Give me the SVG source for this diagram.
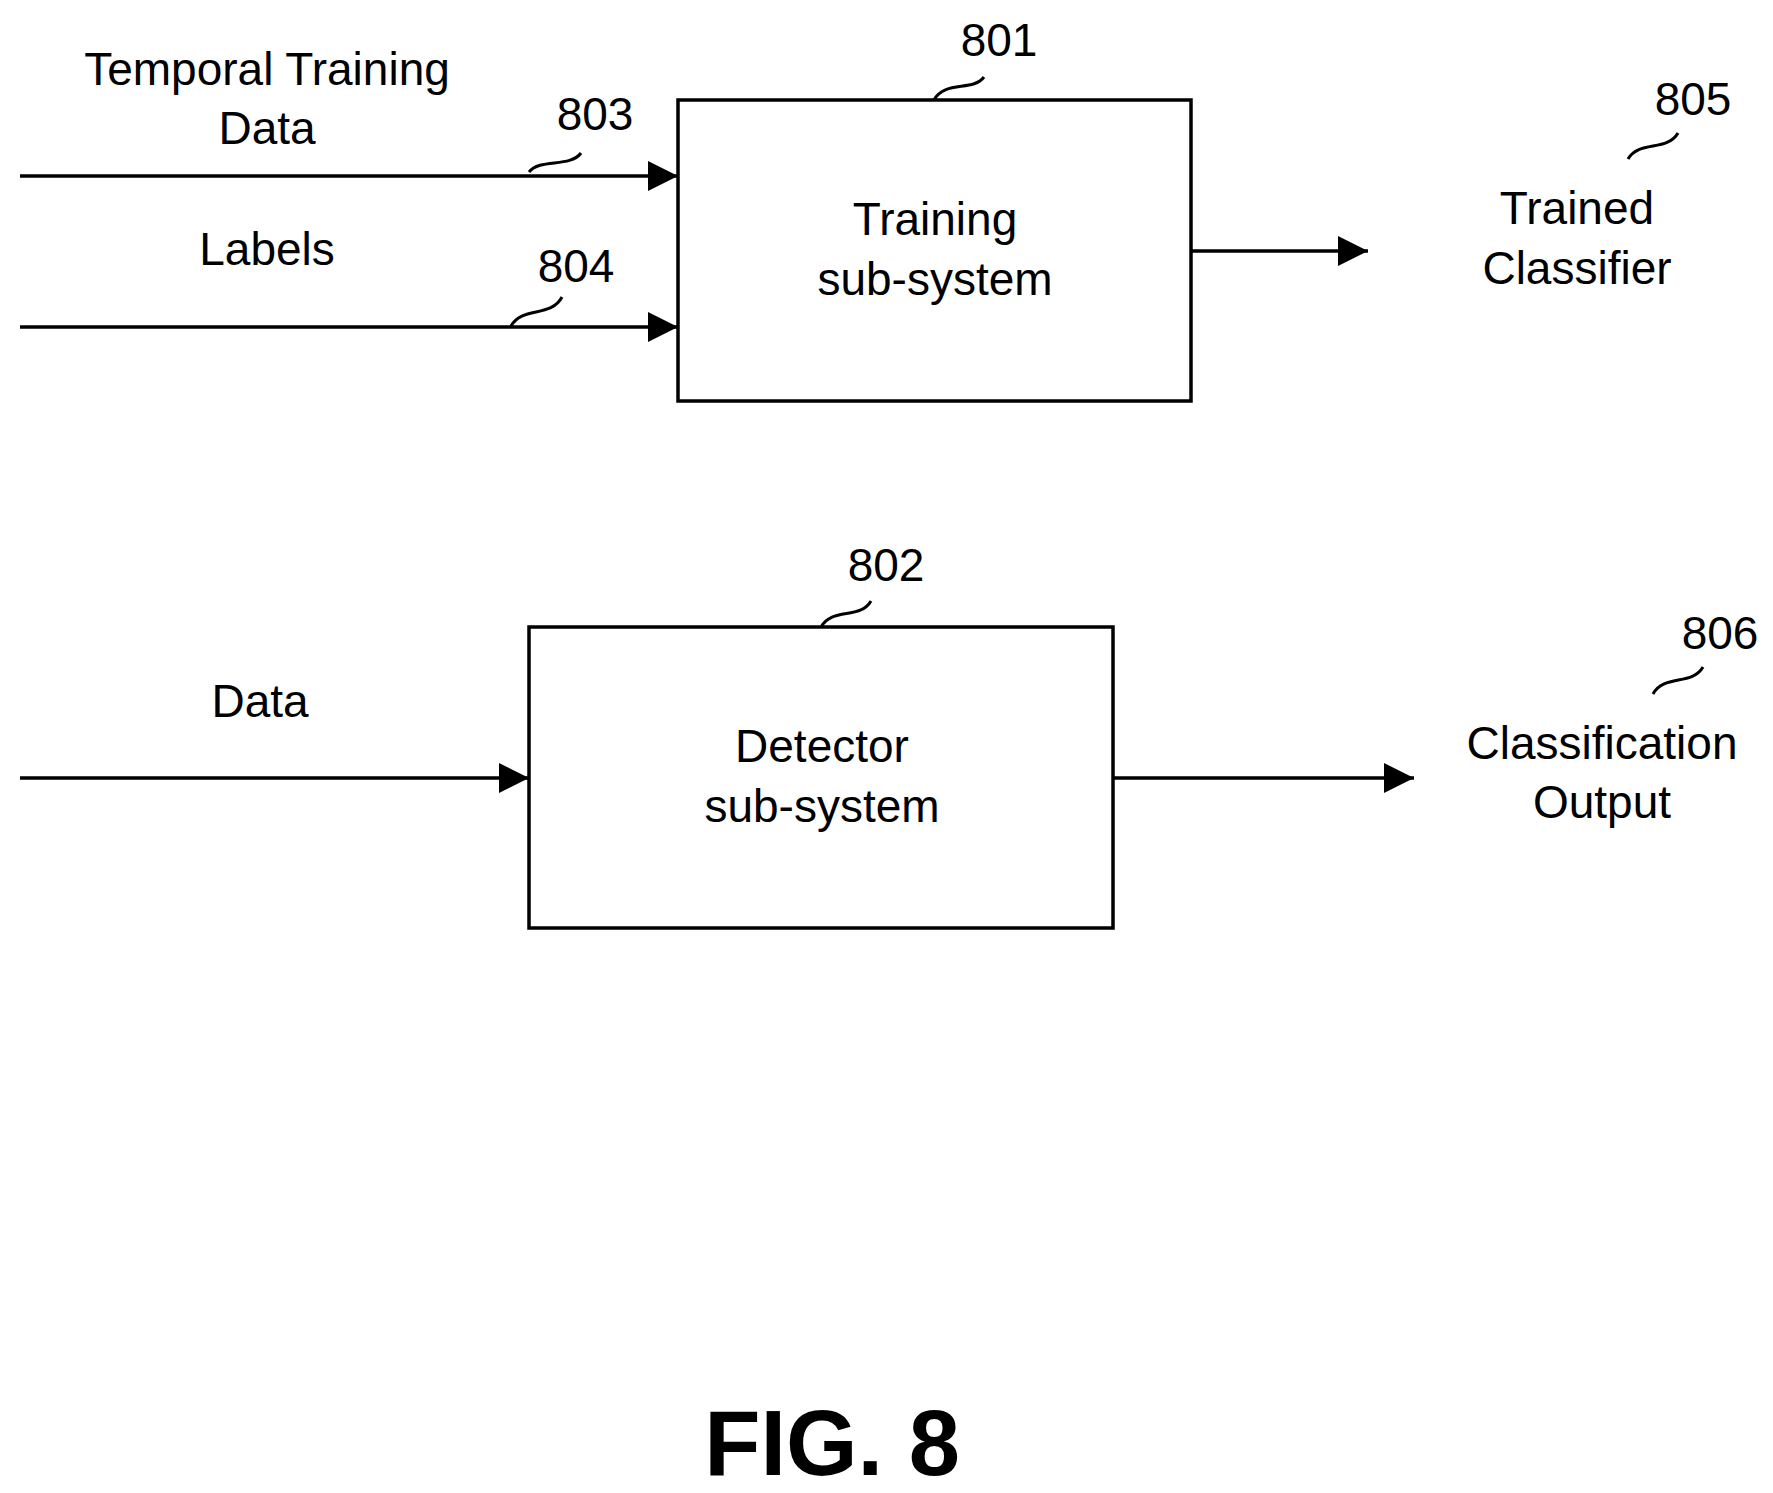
<svg xmlns="http://www.w3.org/2000/svg" width="1773" height="1493" viewBox="0 0 1773 1493">
<style>
text{font-family:"Liberation Sans",Arial,sans-serif;font-size:46px;fill:#000;text-anchor:middle}
.box{fill:#fff;stroke:#000;stroke-width:3.5}
.ln{fill:none;stroke:#000;stroke-width:3.5}
.sq{fill:none;stroke:#000;stroke-width:3}
</style>
<defs><marker id="ah" viewBox="0 0 10 10" refX="10" refY="5" markerWidth="8" markerHeight="8" markerUnits="userSpaceOnUse" orient="auto"><path d="M0,0 L10,5 L0,10 z" fill="#000"/></marker>
<marker id="a" viewBox="0 0 30 30" refX="30" refY="15" markerWidth="30" markerHeight="30" markerUnits="userSpaceOnUse" orient="auto"><path d="M0,0 L30,15 L0,30 z" fill="#000"/></marker></defs>
<g id="n801"><rect class="box" x="678" y="100" width="513" height="301"/><text x="935" y="235">Training</text><text x="935" y="295">sub-system</text></g>
<g id="n802"><rect class="box" x="529" y="627" width="584" height="301"/><text x="822" y="762">Detector</text><text x="822" y="822">sub-system</text></g>
<g id="labels">
<text x="267" y="85">Temporal Training</text><text x="267" y="144">Data</text>
<text x="267" y="265">Labels</text>
<text x="260" y="717">Data</text>
<text x="1577" y="224">Trained</text><text x="1577" y="284">Classifier</text>
<text x="1602" y="759">Classification</text><text x="1602" y="818">Output</text>
<text x="999" y="56">801</text><text x="886" y="581">802</text><text x="595" y="130">803</text><text x="576" y="282">804</text><text x="1693" y="115">805</text><text x="1720" y="649">806</text>
<text x="832" y="1475" style="font-size:92px;font-weight:bold">FIG. 8</text>
</g>
<g id="connectors">
<line class="ln" x1="20" y1="176" x2="678" y2="176" marker-end="url(#a)"/>
<line class="ln" x1="20" y1="327" x2="678" y2="327" marker-end="url(#a)"/>
<line class="ln" x1="1192" y1="251" x2="1368" y2="251" marker-end="url(#a)"/>
<line class="ln" x1="20" y1="778" x2="529" y2="778" marker-end="url(#a)"/>
<line class="ln" x1="1114" y1="778" x2="1414" y2="778" marker-end="url(#a)"/>
<path class="sq" d="M529,172 C540,158 570,168 581,153"/>
<path class="sq" d="M511,326 C522,306 551,318 562,297"/>
<path class="sq" d="M934,100 C945,80 973,92 984,77"/>
<path class="sq" d="M821,627 C832,607 860,620 871,601"/>
<path class="sq" d="M1628,159 C1639,140 1667,152 1678,133"/>
<path class="sq" d="M1653,694 C1664,674 1692,686 1703,667"/>
</g>
</svg>
